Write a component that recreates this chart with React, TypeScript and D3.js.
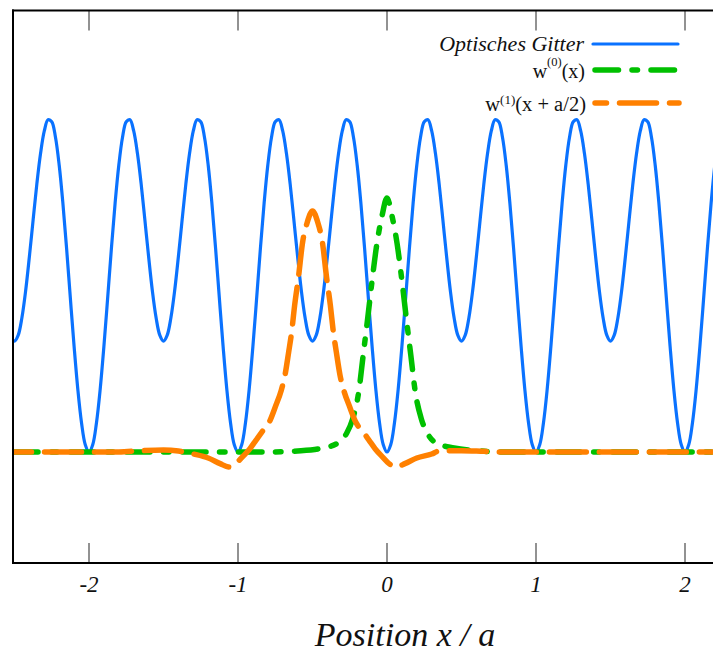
import React from "react";
import * as d3 from "d3";

// ---- data ----
// Lattice sites (deep wells) and the profile of one lattice cell around a deep well
const latticeSites = [-3, -2, -1, 0, 1, 2, 3];
const cellOffset = [
  -0.5, -0.475, -0.45, -0.425, -0.4, -0.375, -0.35, -0.325, -0.3, -0.275, -0.25, -0.225, -0.2,
  -0.175, -0.15, -0.125, -0.1, -0.075, -0.05, -0.025, 0, 0.025, 0.05, 0.075, 0.1, 0.125, 0.15,
  0.175, 0.2, 0.225, 0.25, 0.275, 0.3, 0.325, 0.35, 0.375, 0.4, 0.425, 0.45, 0.475,
];
const cellPotential = [
  0.333, 0.351, 0.404, 0.485, 0.587, 0.697, 0.805, 0.897, 0.964, 0.998, 0.992, 0.945, 0.861,
  0.746, 0.609, 0.461, 0.317, 0.188, 0.087, 0.022, 0, 0.022, 0.087, 0.188, 0.317, 0.461, 0.609,
  0.746, 0.861, 0.945, 0.992, 0.998, 0.964, 0.897, 0.805, 0.697, 0.587, 0.485, 0.404, 0.351,
];

// w^(0)(x)
const w0X = [
  -2.5, -1.5, -1.0, -0.8, -0.6, -0.45, -0.33, -0.27, -0.23, -0.19, -0.16, -0.13, -0.1, -0.067,
  -0.033, 0, 0.033, 0.067, 0.1, 0.13, 0.16, 0.19, 0.23, 0.27, 0.33, 0.45, 0.6, 0.8, 1.0, 1.5, 2.2,
];
const w0Y = [
  0, 0, 0, 0, 0.003, 0.01, 0.027, 0.057, 0.1, 0.18, 0.29, 0.4, 0.515, 0.628, 0.71, 0.763, 0.71,
  0.628, 0.515, 0.4, 0.29, 0.18, 0.1, 0.057, 0.027, 0.012, 0.004, 0, 0, 0, 0,
];

// w^(1)(x + a/2)
const w1X = [
  -2.5, -2.0, -1.8, -1.65, -1.5, -1.4, -1.3, -1.2, -1.12, -1.06, -1.0, -0.96, -0.92, -0.88, -0.84,
  -0.79, -0.75, -0.71, -0.685, -0.66, -0.64, -0.62, -0.594, -0.567, -0.535, -0.5, -0.465, -0.433,
  -0.406, -0.38, -0.36, -0.34, -0.315, -0.29, -0.25, -0.21, -0.16, -0.12, -0.08, -0.04, 0.06,
  0.12, 0.2, 0.3, 0.35, 0.5, 0.65, 0.8, 1.0, 1.5, 2.2,
];
const w1Y = [
  0, 0, 0, 0.004, 0.006, 0.003, -0.006, -0.018, -0.035, -0.045, -0.028, -0.01, 0.01, 0.035, 0.06,
  0.09, 0.135, 0.185, 0.23, 0.3, 0.36, 0.44, 0.526, 0.628, 0.69, 0.724, 0.69, 0.628, 0.526, 0.44,
  0.36, 0.3, 0.23, 0.185, 0.135, 0.09, 0.06, 0.035, 0.01, -0.01, -0.045, -0.035, -0.018, -0.006,
  0.003, 0.004, 0.002, 0, 0, 0, 0,
];

const xTicks = [-2, -1, 0, 1, 2];
const xTickLabels = ["-2", "-1", "0", "1", "2"];

const W = 713;
const H = 653;

export default function App() {
  const x = d3.scaleLinear().domain([-2.5, 2.2]).range([14.5, 714.8]);
  const y = d3.scaleLinear().domain([0, 1]).range([452, 119]);

  const plotLeft = 13;
  const plotRight = 713;
  const plotTop = 10.5;
  const plotBottom = 563;

  const latticePts: [number, number][] = [];
  latticeSites.forEach((s) => {
    cellOffset.forEach((d, i) => {
      latticePts.push([s + d, cellPotential[i]]);
    });
  });

  const line = d3
    .line<[number, number]>()
    .x((d) => x(d[0]))
    .y((d) => y(d[1]));

  const latticePath = line.curve(d3.curveCatmullRom.alpha(0.5))(latticePts) || "";
  const w0Pts = w0X.map((v, i) => [v, w0Y[i]] as [number, number]);
  const w1Pts = w1X.map((v, i) => [v, w1Y[i]] as [number, number]);
  const lineM = d3
    .line<[number, number]>()
    .x((d) => x(d[0]))
    .y((d) => y(d[1]))
    .curve(d3.curveMonotoneX);
  const w0Path = lineM(w0Pts) || "";
  const w1Path = lineM(w1Pts) || "";

  const blue = "#0a72ff";
  const green = "#00c000";
  const orange = "#ff8000";
  const serif = "'Liberation Serif', 'DejaVu Serif', serif";

  return (
    <svg
      width={W}
      height={H}
      style={{ position: "absolute", left: 0, top: 0, background: "#fff" }}
    >
      <defs>
        <clipPath id="plotClip">
          <rect x={plotLeft} y={plotTop} width={plotRight - plotLeft + 2} height={plotBottom - plotTop} />
        </clipPath>
      </defs>

      {/* ticks */}
      {xTicks.map((t) => (
        <g key={t}>
          <line x1={x(t)} x2={x(t)} y1={plotBottom} y2={plotBottom - 20} stroke="#777" strokeWidth={1.6} />
          <line x1={x(t)} x2={x(t)} y1={plotTop} y2={plotTop + 20} stroke="#777" strokeWidth={1.6} />
        </g>
      ))}

      <g clipPath="url(#plotClip)" fill="none" strokeLinecap="round" strokeLinejoin="round">
        <path d={latticePath} stroke={blue} strokeWidth={3.2} />
        <path d={w0Path} stroke={green} strokeWidth={5.5} strokeDasharray="23.5 13.5 5.5 13.5" />
        <path d={w1Path} stroke={orange} strokeWidth={5.5} strokeDasharray="37 13" strokeDashoffset={20} />
      </g>

      {/* frame */}
      <line x1={plotLeft} x2={plotLeft} y1={plotTop - 1} y2={plotBottom + 1} stroke="#000" strokeWidth={2} />
      <line x1={plotLeft - 1} x2={W} y1={plotTop} y2={plotTop} stroke="#000" strokeWidth={2} />
      <line x1={plotLeft - 1} x2={W} y1={plotBottom} y2={plotBottom} stroke="#000" strokeWidth={2} />

      {/* tick labels */}
      {xTicks.map((t, i) => (
        <text
          key={t}
          x={x(t)}
          y={592}
          textAnchor="middle"
          fontFamily={serif}
          fontStyle="italic"
          fontSize={23}
          fill="#111"
        >
          {xTickLabels[i]}
        </text>
      ))}

      {/* axis title */}
      <text x={405} y={646} textAnchor="middle" fontFamily={serif} fontStyle="italic" fontSize={34} fill="#111">
        Position x / a
      </text>

      {/* legend */}
      <g fontFamily={serif} fill="#111">
        <text x={584} y={51} textAnchor="end" fontStyle="italic" fontSize={22}>
          Optisches Gitter
        </text>
        <line x1={593} x2={678} y1={44} y2={44} stroke={blue} strokeWidth={3.2} strokeLinecap="round" />

        <text x={585} y={78} textAnchor="end" fontSize={20}>
          w<tspan dy={-12} fontSize={12.5}>(0)</tspan>
          <tspan dy={12}>(x)</tspan>
        </text>
        <line
          x1={595}
          x2={676}
          y1={70}
          y2={70}
          stroke={green}
          strokeWidth={5.5}
          strokeLinecap="round"
          strokeDasharray="23.5 13.5 5.5 13.5"
        />

        <text x={586} y={111} textAnchor="end" fontSize={20.5}>
          w<tspan dy={-7} fontSize={13}>(1)</tspan>
          <tspan dy={7}>(x + a/2)</tspan>
        </text>
        <line
          x1={595}
          x2={679}
          y1={103}
          y2={103}
          stroke={orange}
          strokeWidth={5.5}
          strokeLinecap="round"
          strokeDasharray="37 13"
          strokeDashoffset={25.5}
        />
      </g>
    </svg>
  );
}
